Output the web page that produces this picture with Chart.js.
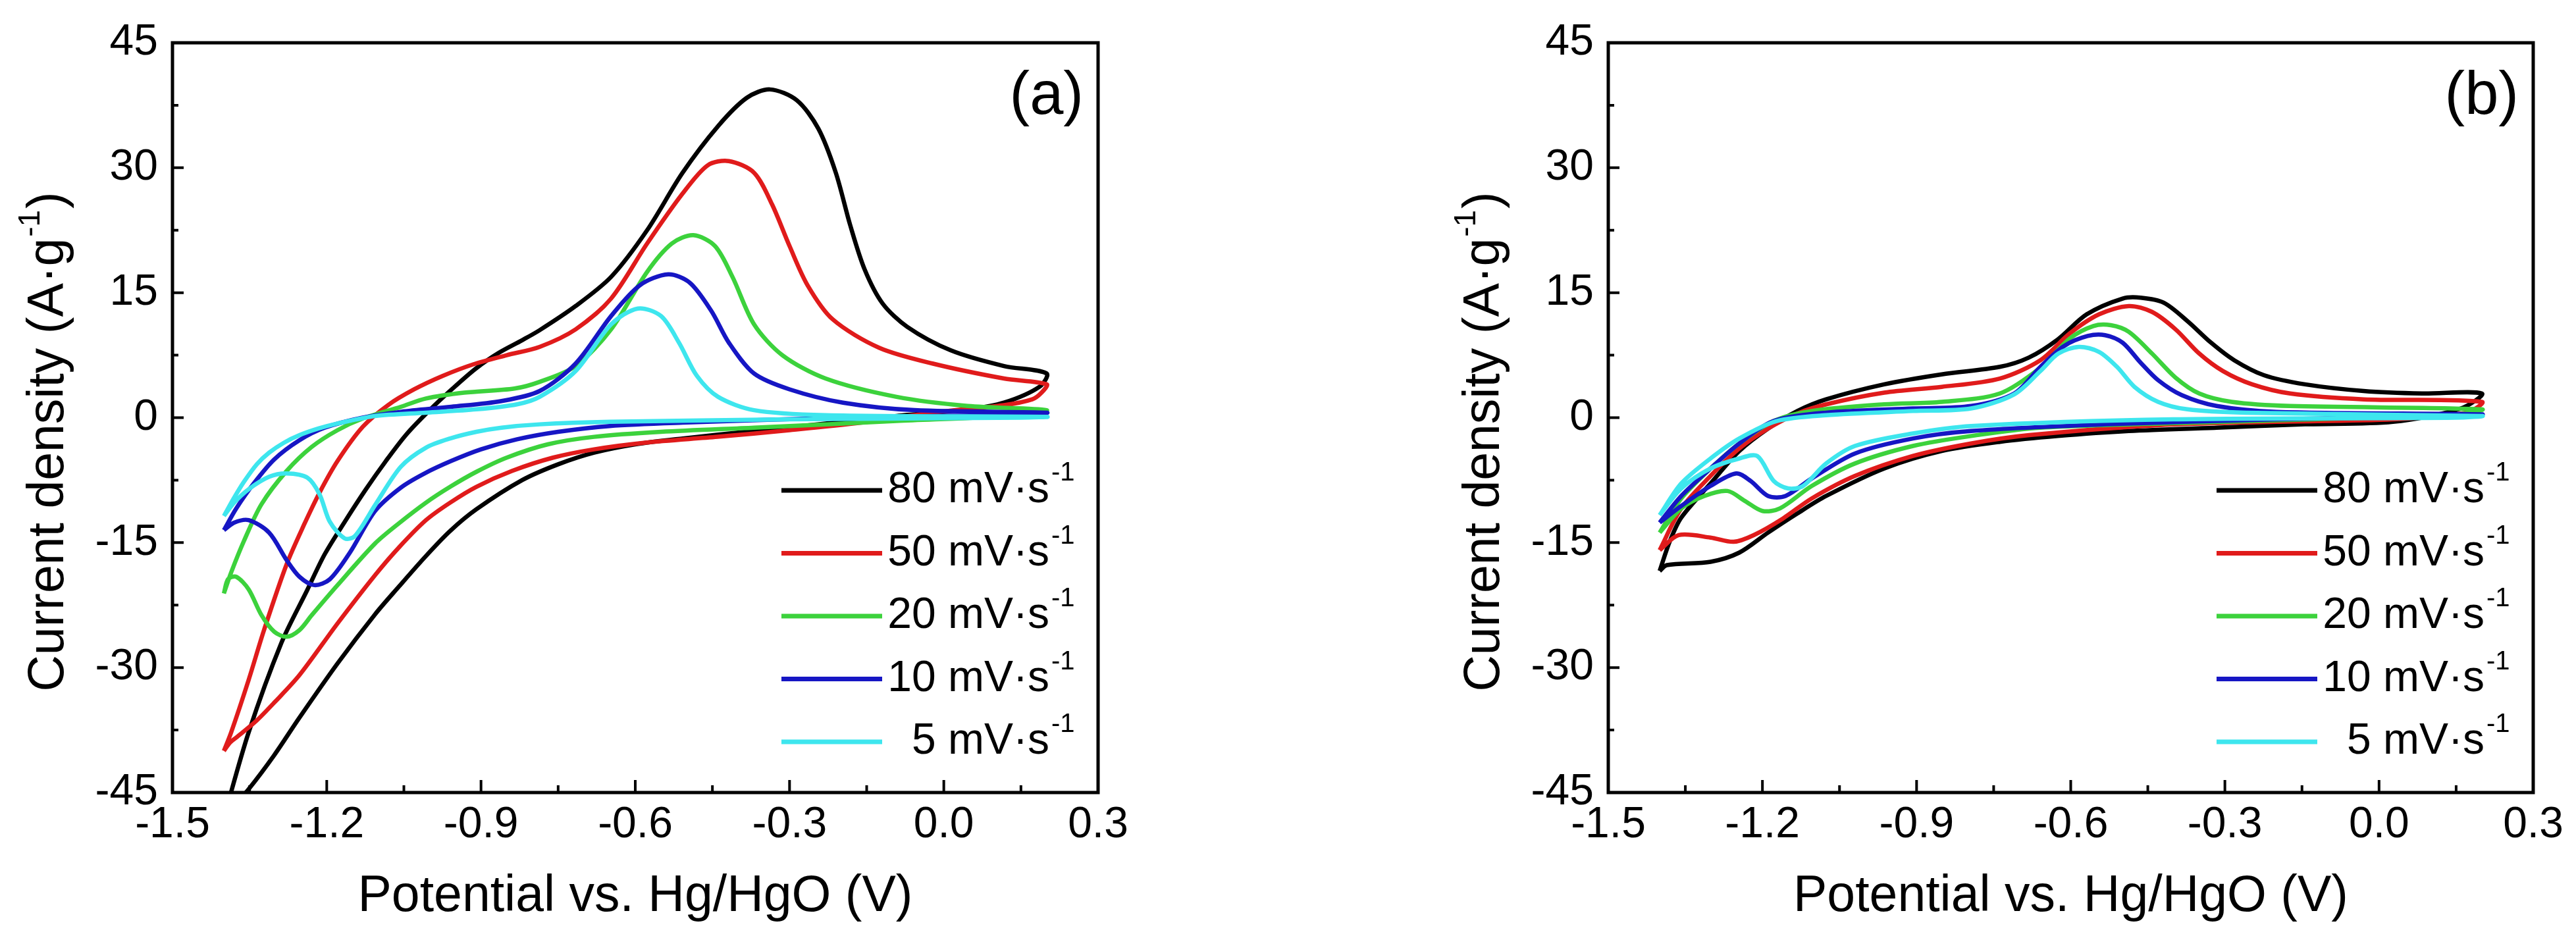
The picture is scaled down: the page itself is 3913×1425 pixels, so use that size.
<!DOCTYPE html>
<html>
<head>
<meta charset="utf-8">
<script src="https://cdn.jsdelivr.net/npm/chart.js@4.4.0/dist/chart.umd.min.js"></script>
<style>
html, body { margin: 0; padding: 0; background: #fff; }
canvas { position: absolute; top: 0; }
#cv_a { left: 0; }
#cv_b { left: 1960px; }
</style>
</head>
<body>
<canvas id="cv_a" width="1960" height="1425"></canvas>
<canvas id="cv_b" width="1953" height="1425"></canvas>
<script>
console.log('cv figure');

/***
data
****/
const scanRates = [80, 50, 20, 10, 5];
const xTicks    = [-1.5, -1.2, -0.9, -0.6, -0.3, 0.0, 0.3];
const yTicks    = [-45, -30, -15, 0, 15, 30, 45];

/* panel (a) : [potential (V), current density (A/g)], anodic sweep then cathodic sweep */
const a80 = [
    [-1.400,-48.0],[-1.352,-37.8],[-1.288,-27.0],[-1.238,-20.7],[-1.204,-16.4],[-1.165,-12.5],[-1.125,-8.7],
    [-1.085,-5.2],[-1.045,-2.0],[-1.000,0.9],[-0.955,3.5],[-0.910,5.9],[-0.865,7.8],[-0.820,9.3],[-0.786,10.5],
    [-0.716,13.4],[-0.647,16.9],[-0.577,22.5],[-0.508,29.4],[-0.439,35.0],[-0.383,38.4],[-0.338,39.4],
    [-0.286,38.1],[-0.244,34.7],[-0.210,29.4],[-0.182,23.1],[-0.154,17.8],[-0.119,13.7],[-0.071,10.9],
    [0.013,8.1],[0.117,6.2],[0.200,5.3],
    [0.186,3.7],[0.117,1.8],[0.047,1.0],[-0.092,0.2],[-0.230,-0.7],[-0.369,-1.6],[-0.508,-2.5],[-0.600,-3.2],
    [-0.680,-4.2],[-0.750,-5.6],[-0.820,-7.5],[-0.909,-11.0],[-0.960,-13.6],[-1.007,-16.6],[-1.060,-20.3],
    [-1.106,-23.6],[-1.179,-29.5],[-1.253,-36.0],[-1.302,-40.5],[-1.352,-44.6],[-1.400,-48.0]
];
const a50 = [
    [-1.400,-40.0],[-1.386,-37.8],[-1.352,-31.5],[-1.322,-25.5],[-1.278,-17.6],[-1.243,-12.7],[-1.214,-9.0],
    [-1.179,-5.2],[-1.130,-1.1],[-1.081,1.5],[-1.030,3.4],[-0.975,5.0],[-0.915,6.4],[-0.850,7.5],[-0.786,8.5],
    [-0.716,10.6],[-0.647,14.3],[-0.577,20.9],[-0.508,26.9],[-0.459,30.3],[-0.418,30.8],[-0.369,29.4],
    [-0.334,25.6],[-0.300,20.6],[-0.265,15.9],[-0.216,11.8],[-0.126,8.4],[-0.022,6.5],[0.117,4.7],[0.200,4.0],
    [0.190,3.0],[0.172,2.2],[0.117,1.5],[-0.022,0.6],[-0.161,-0.6],[-0.300,-1.5],[-0.440,-2.3],[-0.580,-3.0],
    [-0.680,-3.8],[-0.760,-4.8],[-0.840,-6.4],[-0.909,-8.3],[-0.960,-10.2],[-1.007,-12.3],[-1.060,-15.6],
    [-1.106,-18.9],[-1.179,-24.7],[-1.253,-30.9],[-1.302,-34.2],[-1.337,-36.4],[-1.376,-38.4],[-1.388,-39.0],
    [-1.400,-40.0]
];
const a20 = [
    [-1.400,-21.1],[-1.386,-18.6],[-1.361,-14.8],[-1.327,-10.4],[-1.278,-6.4],[-1.229,-3.5],[-1.179,-1.5],
    [-1.130,-0.1],[-1.056,1.3],[-1.007,2.3],[-0.933,3.0],[-0.835,3.5],[-0.786,4.3],[-0.716,6.2],[-0.647,10.6],
    [-0.577,17.5],[-0.529,20.9],[-0.487,21.9],[-0.445,20.6],[-0.411,16.9],[-0.369,11.2],[-0.314,7.5],
    [-0.230,4.7],[-0.092,2.5],[0.047,1.4],[0.200,0.9],
    [0.150,0.3],[-0.092,-0.4],[-0.369,-1.2],[-0.550,-1.7],[-0.680,-2.3],[-0.770,-3.2],[-0.850,-4.8],
    [-0.909,-6.5],[-0.960,-8.3],[-1.007,-10.2],[-1.060,-12.7],[-1.106,-15.1],[-1.179,-20.1],[-1.229,-23.7],
    [-1.253,-25.5],[-1.278,-26.3],[-1.302,-25.7],[-1.327,-23.7],[-1.352,-20.6],[-1.376,-19.1],[-1.392,-19.4],
    [-1.400,-21.1]
];
const a10 = [
    [-1.400,-13.5],[-1.376,-10.9],[-1.342,-7.9],[-1.302,-5.0],[-1.253,-2.7],[-1.204,-1.2],[-1.130,0.0],
    [-1.056,0.7],[-0.958,1.3],[-0.860,2.0],[-0.786,3.2],[-0.716,6.5],[-0.647,12.2],[-0.591,15.9],[-0.536,17.2],
    [-0.494,16.2],[-0.452,12.8],[-0.418,9.0],[-0.369,5.3],[-0.300,3.4],[-0.196,1.8],[-0.057,0.9],[0.200,0.6],
    [0.150,0.4],[-0.200,0.0],[-0.508,-0.6],[-0.650,-1.0],[-0.750,-1.7],[-0.830,-2.6],[-0.900,-3.8],
    [-0.958,-5.2],[-1.010,-6.7],[-1.056,-8.4],[-1.106,-11.2],[-1.155,-16.2],[-1.194,-19.4],[-1.224,-20.1],
    [-1.253,-19.1],[-1.278,-17.1],[-1.312,-13.8],[-1.352,-12.3],[-1.380,-12.6],[-1.400,-13.5]
];
const a5 = [
    [-1.400,-11.8],[-1.380,-9.6],[-1.361,-7.7],[-1.336,-5.6],[-1.312,-4.2],[-1.283,-3.0],[-1.253,-2.1],
    [-1.216,-1.3],[-1.179,-0.7],[-1.106,0.2],[-1.007,0.6],[-0.909,1.0],[-0.830,1.6],[-0.786,2.5],[-0.716,5.6],
    [-0.647,11.2],[-0.595,13.1],[-0.550,12.2],[-0.515,9.0],[-0.480,5.0],[-0.439,2.5],[-0.369,0.9],
    [-0.230,0.3],[0.200,0.1],
    [0.150,0.0],[-0.300,-0.2],[-0.650,-0.5],[-0.786,-0.8],[-0.860,-1.2],[-0.909,-1.7],[-0.960,-2.5],
    [-1.007,-3.6],[-1.056,-5.9],[-1.106,-10.5],[-1.145,-14.2],[-1.165,-14.5],[-1.194,-12.5],[-1.214,-9.2],
    [-1.238,-7.2],[-1.278,-6.7],[-1.312,-7.1],[-1.352,-8.6],[-1.380,-10.2],[-1.400,-11.8]
];

/* panel (b) */
const b80 = [
    [-1.400,-18.4],[-1.380,-14.8],[-1.358,-12.0],[-1.301,-7.9],[-1.245,-4.0],[-1.189,-1.3],[-1.132,0.8],
    [-1.076,2.2],[-0.963,4.0],[-0.851,5.2],[-0.738,6.1],[-0.682,7.2],[-0.625,9.4],[-0.569,12.4],[-0.499,14.3],
    [-0.464,14.4],[-0.419,13.8],[-0.373,11.6],[-0.327,9.0],[-0.282,6.9],[-0.224,5.1],[-0.144,4.0],[-0.030,3.2],
    [0.084,2.9],[0.200,2.9],
    [0.159,1.1],[0.027,-0.5],[-0.144,-0.8],[-0.316,-1.2],[-0.487,-1.6],[-0.625,-2.2],[-0.738,-2.9],
    [-0.851,-4.0],[-0.963,-6.1],[-1.076,-9.4],[-1.132,-11.5],[-1.189,-13.8],[-1.245,-16.2],[-1.301,-17.3],
    [-1.386,-17.7],[-1.400,-18.4]
];
const b50 = [
    [-1.400,-15.9],[-1.358,-10.9],[-1.301,-7.0],[-1.245,-3.7],[-1.189,-1.3],[-1.132,0.5],[-1.076,1.6],
    [-0.963,3.0],[-0.851,3.7],[-0.738,4.7],[-0.659,6.9],[-0.602,10.1],[-0.545,12.4],[-0.487,13.4],
    [-0.442,12.7],[-0.396,10.6],[-0.350,7.7],[-0.304,5.6],[-0.247,4.0],[-0.173,2.9],[-0.030,2.2],[0.200,1.9],
    [0.170,0.6],[0.027,-0.2],[-0.200,-0.5],[-0.430,-0.9],[-0.681,-2.1],[-0.794,-3.1],[-0.907,-4.6],
    [-1.020,-7.0],[-1.104,-9.7],[-1.160,-12.1],[-1.217,-14.1],[-1.256,-14.9],[-1.301,-14.4],[-1.363,-14.1],
    [-1.400,-15.9]
];
const b20 = [
    [-1.400,-13.8],[-1.358,-9.7],[-1.301,-6.1],[-1.245,-3.1],[-1.178,-0.4],[-1.104,0.8],[-0.963,1.6],
    [-0.851,1.9],[-0.738,2.9],[-0.659,6.0],[-0.602,9.5],[-0.556,11.0],[-0.522,11.1],[-0.487,10.3],
    [-0.442,7.7],[-0.396,4.8],[-0.350,2.9],[-0.287,1.9],[-0.173,1.4],[0.200,1.0],
    [0.150,0.4],[-0.300,-0.5],[-0.659,-1.2],[-0.794,-2.2],[-0.907,-3.4],[-1.020,-5.5],[-1.104,-8.2],
    [-1.166,-10.9],[-1.200,-11.2],[-1.234,-10.0],[-1.268,-8.8],[-1.313,-9.4],[-1.358,-10.9],[-1.400,-13.8]
];
const b10 = [
    [-1.400,-12.6],[-1.358,-9.4],[-1.301,-6.1],[-1.245,-3.1],[-1.178,-0.4],[-1.076,0.6],[-0.907,1.1],
    [-0.794,1.4],[-0.710,2.9],[-0.659,6.1],[-0.613,8.6],[-0.567,9.8],[-0.533,9.9],[-0.499,9.0],[-0.464,6.6],
    [-0.430,4.5],[-0.384,2.7],[-0.316,1.4],[-0.200,0.7],[0.200,0.4],
    [0.150,0.2],[-0.200,-0.2],[-0.530,-0.8],[-0.794,-1.6],[-0.907,-2.5],[-1.020,-4.3],[-1.104,-7.3],
    [-1.155,-9.4],[-1.189,-9.4],[-1.223,-7.6],[-1.251,-6.7],[-1.301,-8.2],[-1.358,-10.6],[-1.400,-12.6]
];
const b5 = [
    [-1.400,-11.7],[-1.358,-7.9],[-1.301,-4.9],[-1.245,-2.5],[-1.172,-0.4],[-1.076,0.3],[-0.907,0.8],
    [-0.794,1.1],[-0.710,2.8],[-0.659,5.6],[-0.624,7.7],[-0.584,8.5],[-0.545,7.9],[-0.510,6.1],[-0.476,3.7],
    [-0.430,1.9],[-0.373,1.0],[-0.260,0.6],[0.200,0.2],
    [0.150,0.0],[-0.400,-0.2],[-0.794,-1.0],[-0.907,-1.9],[-1.020,-3.4],[-1.076,-5.5],[-1.121,-8.2],
    [-1.150,-8.5],[-1.178,-7.6],[-1.210,-4.6],[-1.245,-4.9],[-1.301,-6.1],[-1.358,-8.5],[-1.400,-11.7]
];

const panelA = [a80, a50, a20, a10, a5];
const panelB = [b80, b50, b20, b10, b5];


/******
setting
*******/
const fig = {};
fig.func    = {};
fig.setting = {};
fig.setting.colors = ['#000000', '#e01b1b', '#3cd23c', '#1616c4', '#3ee6ee'];
fig.setting.font   = '"Liberation Sans", Arial, Helvetica, sans-serif';
fig.setting.panels = [
    { id: 'cv_a', tag: '(a)', data: panelA, yWidth: 262, padRight: 292 },
    { id: 'cv_b', tag: '(b)', data: panelB, yWidth: 483, padRight: 65 }
];

Chart.defaults.font.family = fig.setting.font;
Chart.defaults.color       = '#000';


/* box, inward ticks, y title, panel tag and legend */
fig.func.framePlugin = {
    id: 'cvFrame',
    afterDraw: (chart, args, opts)=>{
        const ctx = chart.ctx;
        const {left, right, top, bottom} = chart.chartArea;
        const sx = chart.scales.x;
        const sy = chart.scales.y;
        ctx.save();
        /* ticks */
        ctx.strokeStyle = '#000';
        ctx.lineWidth   = 4;
        ctx.beginPath();
        for(let i = 0; i < xTicks.length; i++){
            let px = sx.getPixelForValue(xTicks[i]);
            ctx.moveTo(px, bottom); ctx.lineTo(px, bottom - 19);
            if( i < xTicks.length - 1){ // minor tick
                let pm = sx.getPixelForValue((xTicks[i] + xTicks[i+1]) / 2);
                ctx.moveTo(pm, bottom); ctx.lineTo(pm, bottom - 11);
            };
        };
        for(let i = 0; i < yTicks.length; i++){
            let py = sy.getPixelForValue(yTicks[i]);
            ctx.moveTo(left, py); ctx.lineTo(left + 17, py);
            if( i < yTicks.length - 1){
                let pm = sy.getPixelForValue((yTicks[i] + yTicks[i+1]) / 2);
                ctx.moveTo(left, pm); ctx.lineTo(left + 9, pm);
            };
        };
        ctx.stroke();
        /* box */
        ctx.lineWidth = 5;
        ctx.strokeRect(left, top, right - left, bottom - top);
        ctx.fillStyle    = '#000';
        ctx.textBaseline = 'middle';
        /* y title with superscript */
        ctx.save();
        ctx.translate(left - 187, top + 606);
        ctx.rotate(-Math.PI / 2);
        ctx.font = '77px ' + fig.setting.font;
        let t1 = 'Current density (A\u00b7g';
        let w1 = ctx.measureText(t1).width;
        let w3 = ctx.measureText(')').width;
        ctx.font = '46px ' + fig.setting.font;
        let w2 = ctx.measureText('-1').width + 4;
        let x0 = -(w1 + w2 + w3) / 2;
        ctx.textAlign = 'left';
        ctx.fillText('-1', x0 + w1 + 2, -28);
        ctx.font = '77px ' + fig.setting.font;
        ctx.fillText(t1, x0, 0);
        ctx.fillText(')', x0 + w1 + w2, 0);
        ctx.restore();
        /* panel tag */
        ctx.font      = '92px ' + fig.setting.font;
        ctx.textAlign = 'right';
        ctx.fillText(opts.tag, right - 22, top + 83);
        /* legend */
        chart.data.datasets.forEach((ds, i)=>{
            let ly = top + 680 + i * 95.5;
            ctx.strokeStyle = ds.borderColor;
            ctx.lineWidth   = 7;
            ctx.beginPath();
            ctx.moveTo(right - 481, ly);
            ctx.lineTo(right - 328, ly);
            ctx.stroke();
            ctx.font      = '66px ' + fig.setting.font;
            ctx.textAlign = 'right';
            ctx.fillText(`${scanRates[i]} mV\u00b7s`, right - 74, ly);
            ctx.font      = '40px ' + fig.setting.font;
            ctx.textAlign = 'left';
            ctx.fillText('-1', right - 71, ly - 26);
        });
        ctx.restore();
    }
};


fig.func.make = (panel)=>{
    let canvas = document.querySelector('#' + panel.id);
    let datasets = panel.data.map((pts, i)=>({
        label: `${scanRates[i]} mV\u00b7s\u207b\u00b9`,
        data: pts,
        borderColor: fig.setting.colors[i],
        borderWidth: 6.5,
        pointRadius: 0,
        tension: 0.3,
        fill: false,
        clip: 0,
        order: scanRates.length - 1 - i
    }));
    return new Chart(canvas.getContext('2d'), {
        type: 'line',
        data: { datasets: datasets },
        options: {
            responsive: false,
            animation: false,
            devicePixelRatio: 1,
            layout: { padding: { left: 0, right: panel.padRight, top: 65, bottom: 0 } },
            plugins: {
                legend: { display: false },
                tooltip: { enabled: false },
                cvFrame: { tag: panel.tag }
            },
            scales: {
                x: {
                    type: 'linear',
                    position: 'bottom',
                    min: -1.5,
                    max: 0.3,
                    grid: { display: false, drawTicks: false },
                    border: { display: false },
                    afterBuildTicks: (scale)=>{ scale.ticks = xTicks.map(v => ({ value: v })); },
                    afterFit: (scale)=>{ scale.height = 221; },
                    ticks: {
                        padding: 10,
                        maxRotation: 0,
                        autoSkip: false,
                        font: { size: 66 },
                        color: '#000',
                        callback: (v)=> Number(v).toFixed(1)
                    },
                    title: {
                        display: true,
                        text: 'Potential vs. Hg/HgO (V)',
                        font: { size: 77 },
                        color: '#000',
                        padding: { top: 0, bottom: 16 }
                    }
                },
                y: {
                    type: 'linear',
                    min: -45,
                    max: 45,
                    grid: { display: false, drawTicks: false },
                    border: { display: false },
                    afterBuildTicks: (scale)=>{ scale.ticks = yTicks.map(v => ({ value: v })); },
                    afterFit: (scale)=>{ scale.width = panel.yWidth; },
                    ticks: {
                        padding: 22,
                        autoSkip: false,
                        font: { size: 66 },
                        color: '#000',
                        callback: (v)=> String(v)
                    }
                }
            }
        },
        plugins: [fig.func.framePlugin]
    });
};


/*************
INITIALIZATION
**************/
fig.setting.panels.forEach((p)=>{ fig.func.make(p); });
</script>
</body>
</html>
